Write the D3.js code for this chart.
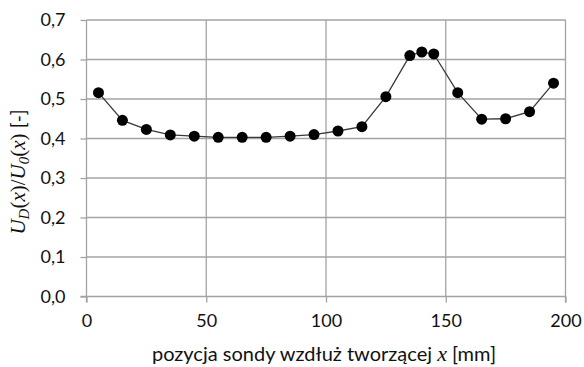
<!DOCTYPE html>
<html><head><meta charset="utf-8">
<script src="https://cdn.jsdelivr.net/npm/d3@7"></script>
<style>body{margin:0;background:#fff}svg{display:block}</style>
</head><body>
<script>
const positions = [5,15,25,35,45,55,65,75,85,95,105,115,125,135,140,145,155,165,175,185,195];
const ratios = [0.516,0.446,0.423,0.409,0.406,0.403,0.403,0.403,0.406,0.410,0.419,0.430,0.506,0.610,0.619,0.614,0.516,0.449,0.450,0.468,0.540];
const xTicks = [0,50,100,150,200];
const yTicks = [0,0.1,0.2,0.3,0.4,0.5,0.6,0.7];

const W=584,H=367;
const svg=d3.select("body").append("svg").attr("width",W).attr("height",H);
const x=d3.scaleLinear().domain([0,200]).range([86.5,565.5]);
const y=d3.scaleLinear().domain([0,0.7]).range([296.5,20]);
const grid="#a3a3a3", font="Lato, 'Open Sans', sans-serif", tc="#111";

// gridlines
svg.append("g").selectAll("line").data(yTicks.slice(1)).join("line")
 .attr("x1",x(0)).attr("x2",x(200)).attr("y1",d=>y(d)).attr("y2",d=>y(d))
 .attr("stroke",grid).attr("stroke-width",1.3);
svg.append("g").selectAll("line").data(xTicks.slice(1)).join("line")
 .attr("y1",y(0)).attr("y2",y(0.7)).attr("x1",d=>x(d)).attr("x2",d=>x(d))
 .attr("stroke",grid).attr("stroke-width",1.3);

// axes
const xa=svg.append("g").attr("transform",`translate(0,${y(0)})`)
 .call(d3.axisBottom(x).tickValues(xTicks).tickSize(6).tickPadding(12).tickFormat(d3.format("d")));
const ya=svg.append("g").attr("transform",`translate(${x(0)},0)`)
 .call(d3.axisLeft(y).tickValues(yTicks).tickSize(6).tickPadding(15).tickFormat(d=>d3.format(".1f")(d).replace(".",",")));
[xa,ya].forEach(a=>{
 a.select(".domain").attr("stroke",grid).attr("stroke-width",1.3);
 a.selectAll(".tick line").attr("stroke",grid).attr("stroke-width",1.3);
 a.selectAll("text").attr("font-family",font).attr("font-size",18).attr("fill",tc);
});
ya.select(".domain").attr("d",`M-6,${y(0)}H0V${y(0.7)}`);
xa.select(".domain").attr("d",`M${x(0)},6V0H${x(200)}V6`);

// line
svg.append("path").datum(positions.map((p,i)=>[p,ratios[i]]))
 .attr("d",d3.line().x(d=>x(d[0])).y(d=>y(d[1])))
 .attr("fill","none").attr("stroke","#3a3a3a").attr("stroke-width",1.3);
svg.append("g").selectAll("circle").data(positions.map((p,i)=>[p,ratios[i]])).join("circle")
 .attr("cx",d=>x(d[0])).attr("cy",d=>y(d[1])).attr("r",5.5).attr("fill","#000");

// x label
const xl=svg.append("text").attr("x",324).attr("y",361).attr("text-anchor","middle")
 .attr("font-family",font).attr("font-size",20).attr("fill",tc);
xl.append("tspan").text("pozycja sondy wzdłuż tworzącej ");
xl.append("tspan").attr("font-family","'Liberation Serif', serif").attr("font-style","italic").attr("font-size",22).text("x");
xl.append("tspan").text(" [mm]");

// y label
const serif="'Liberation Serif', serif";
const yl=svg.append("text").attr("transform","translate(25,172) rotate(-90)").attr("text-anchor","middle")
 .attr("font-family",serif).attr("font-size",21).attr("fill",tc);
yl.append("tspan").attr("font-style","italic").text("U");
yl.append("tspan").attr("font-style","italic").attr("font-size",15).attr("dy",4).text("D");
yl.append("tspan").attr("dy",-4).text("(");
yl.append("tspan").attr("font-style","italic").text("x");
yl.append("tspan").text(")/");
yl.append("tspan").attr("font-style","italic").text("U");
yl.append("tspan").attr("font-style","italic").attr("font-size",15).attr("dy",4).text("0");
yl.append("tspan").attr("dy",-4).text("(");
yl.append("tspan").attr("font-style","italic").text("x");
yl.append("tspan").text(") ");
yl.append("tspan").attr("font-family",font).attr("font-size",19).text("[-]");
</script>
</body></html>
